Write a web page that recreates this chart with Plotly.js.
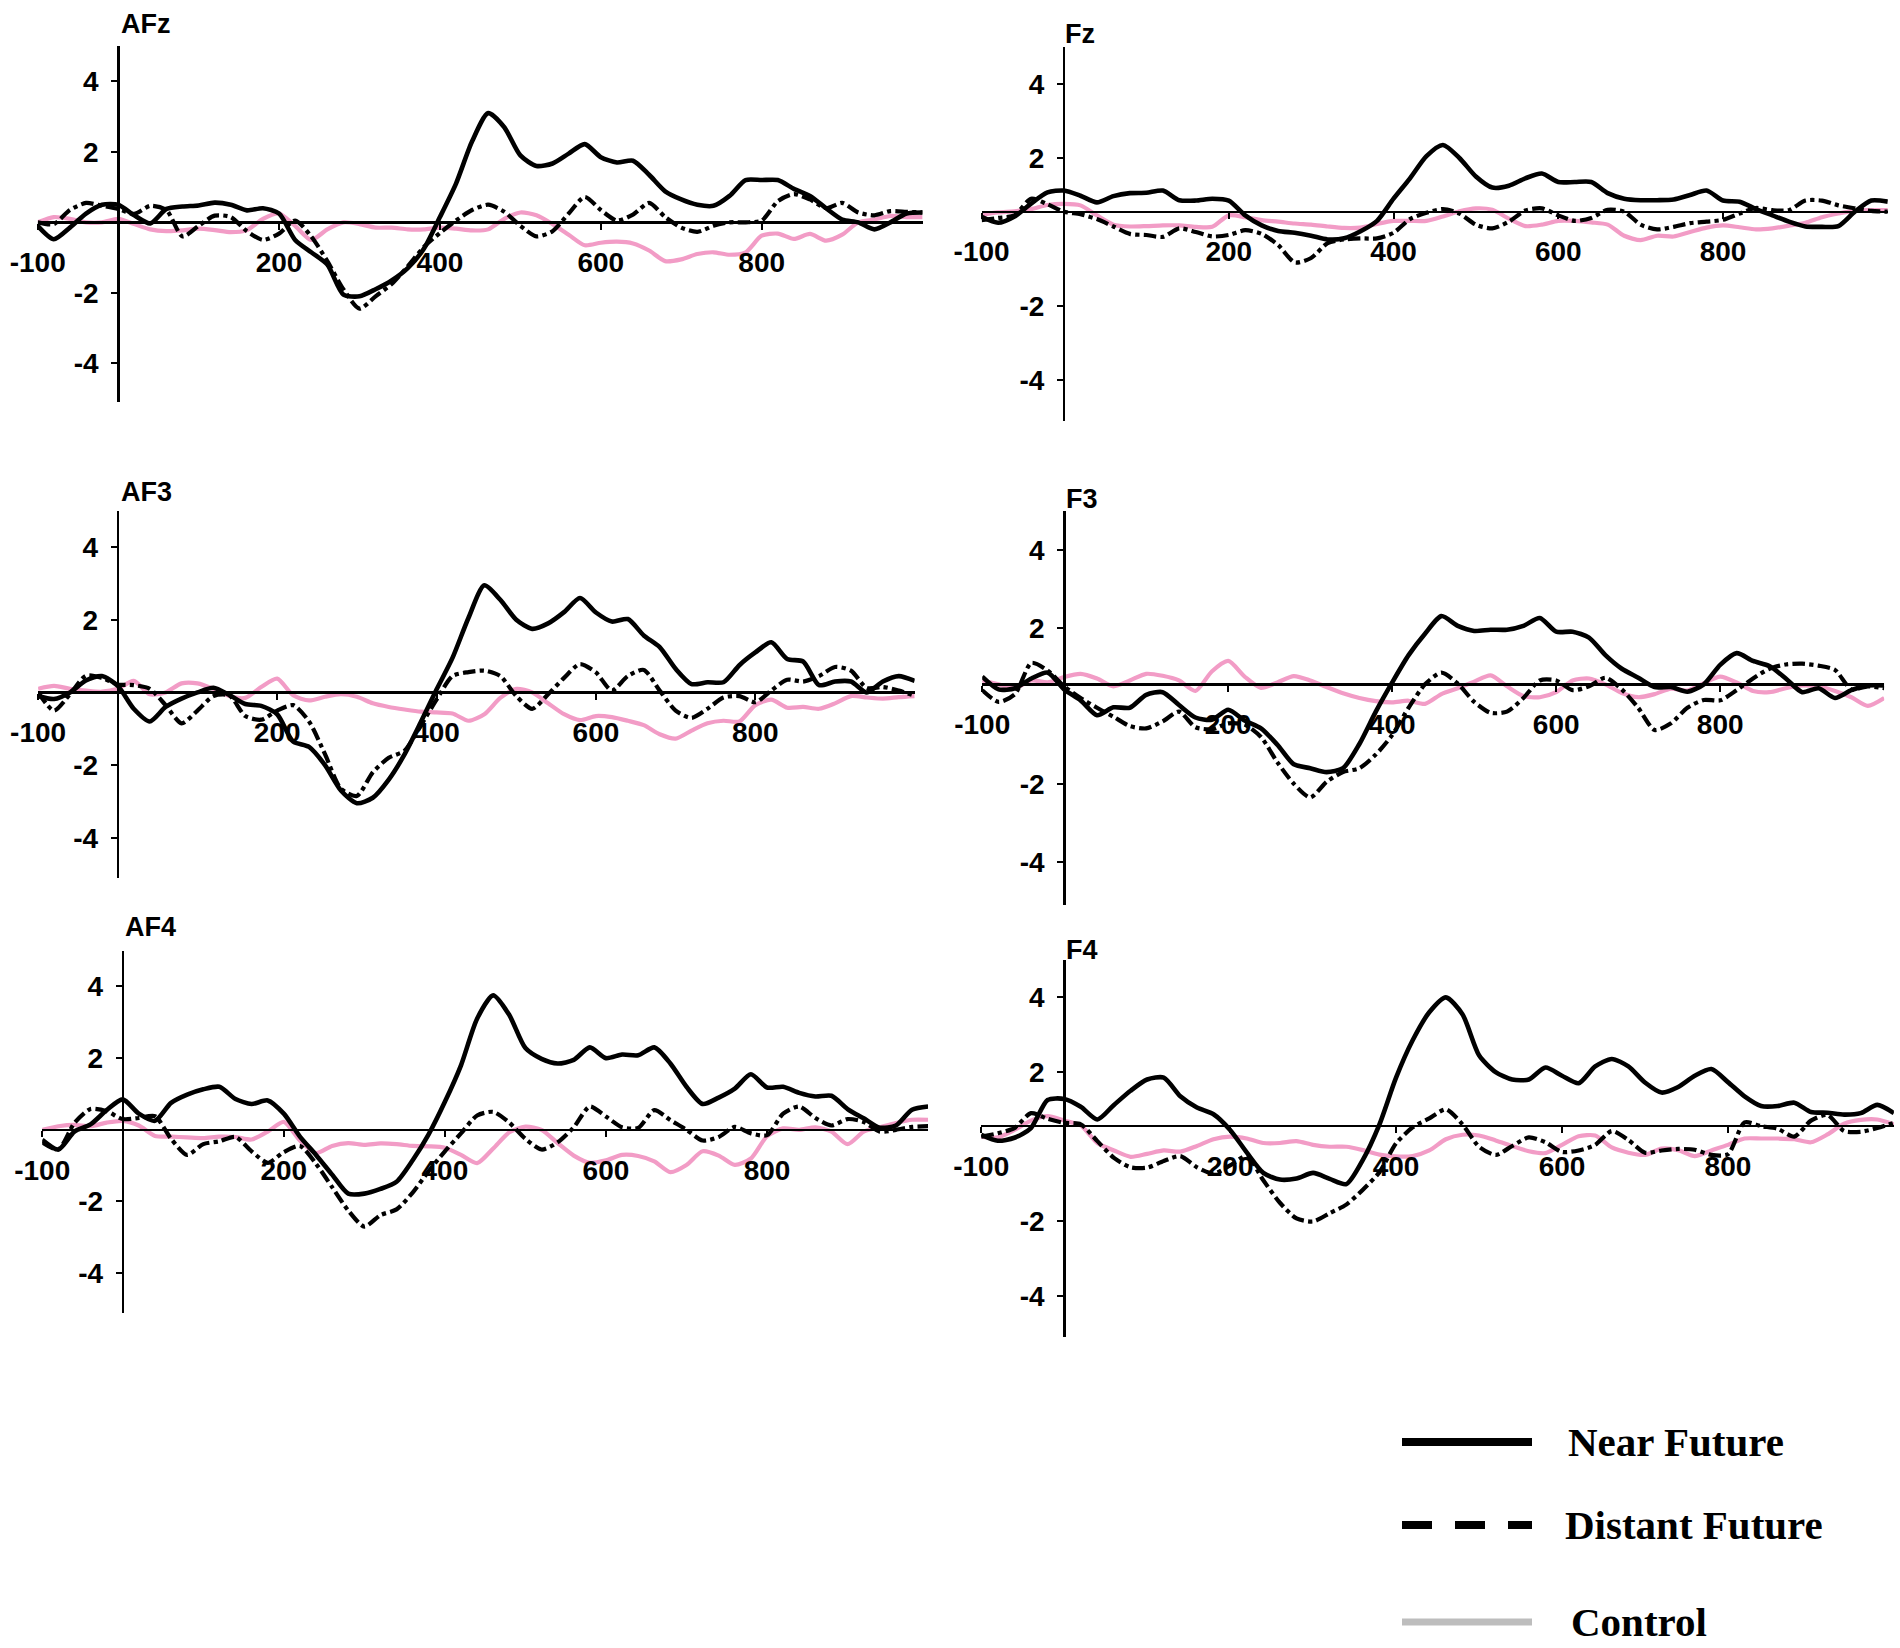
<!DOCTYPE html>
<html>
<head>
<meta charset="utf-8">
<script src="https://cdn.plot.ly/plotly-3.0.1.min.js"></script>
<style>
  html, body { margin: 0; padding: 0; background: #fff; }
  #erp { width: 1900px; height: 1648px; }
</style>
</head>
<body>
<div id="erp"></div>
<script>
// time points (ms), 20 ms apart
const times = [-100, -80, -60, -40, -20, 0, 20, 40, 60, 80,
  100, 120, 140, 160, 180, 200, 220, 240, 260, 280,
  300, 320, 340, 360, 380, 400, 420, 440, 460, 480,
  500, 520, 540, 560, 580, 600, 620, 640, 660, 680,
  700, 720, 740, 760, 780, 800, 820, 840, 860, 880,
  900, 920, 940, 960, 980, 1000];

// amplitudes (µV)
const afzNear = [-0.1, -0.48, -0.15, 0.25, 0.5, 0.5, 0.2, -0.03, 0.38, 0.45, 0.48, 0.56, 0.5, 0.34, 0.4, 0.25, -0.5, -0.85, -1.2, -2.05, -2.1, -1.9, -1.65, -1.3, -0.75, 0.15, 1.1, 2.3, 3.1, 2.7, 1.9, 1.6, 1.67, 1.95, 2.22, 1.85, 1.7, 1.75, 1.35, 0.88, 0.65, 0.5, 0.47, 0.75, 1.2, 1.2, 1.2, 0.95, 0.75, 0.4, 0.08, 0, -0.2, 0.0, 0.25, 0.28];
const afzDist = [0, -0.05, 0.35, 0.55, 0.47, 0.38, 0.24, 0.47, 0.35, -0.4, -0.1, 0.19, 0.15, -0.25, -0.5, -0.32, 0.05, -0.4, -1.1, -1.9, -2.45, -2.1, -1.75, -1.25, -0.7, -0.3, 0.05, 0.35, 0.5, 0.3, -0.1, -0.4, -0.25, 0.25, 0.72, 0.35, 0.05, 0.22, 0.55, 0.15, -0.15, -0.27, -0.1, 0, 0, 0.05, 0.6, 0.8, 0.65, 0.4, 0.55, 0.28, 0.2, 0.32, 0.3, 0.28];
const afzCtrl = [0, 0.15, 0.1, 0, 0, 0.1, -0.05, -0.2, -0.25, -0.23, -0.18, -0.22, -0.28, -0.22, 0.1, 0.25, -0.1, -0.5, -0.2, 0, -0.05, -0.15, -0.15, -0.2, -0.2, -0.15, -0.18, -0.23, -0.2, 0.1, 0.28, 0.2, -0.05, -0.35, -0.65, -0.58, -0.55, -0.6, -0.8, -1.1, -1.05, -0.9, -0.85, -0.92, -0.85, -0.38, -0.32, -0.47, -0.33, -0.52, -0.35, 0, 0.08, 0.18, 0.15, 0.15];

const fzNear = [0.41, 0.25, 0.42, 0.77, 1.07, 1.12, 0.98, 0.8, 0.97, 1.05, 1.06, 1.12, 0.86, 0.85, 0.9, 0.85, 0.45, 0.18, 0.03, -0.02, -0.1, -0.2, -0.17, 0.02, 0.3, 0.9, 1.45, 2.05, 2.35, 2.0, 1.5, 1.2, 1.25, 1.45, 1.58, 1.35, 1.35, 1.35, 1.05, 0.9, 0.86, 0.86, 0.88, 1.0, 1.12, 0.85, 0.82, 0.62, 0.45, 0.28, 0.15, 0.14, 0.16, 0.55, 0.85, 0.82];
const fzDist = [0.32, 0.38, 0.45, 0.9, 0.75, 0.55, 0.48, 0.35, 0.15, -0.05, -0.08, -0.13, 0.1, 0, -0.12, -0.08, 0.05, -0.05, -0.35, -0.82, -0.7, -0.3, -0.2, -0.17, -0.17, -0.02, 0.35, 0.52, 0.62, 0.5, 0.2, 0.1, 0.28, 0.58, 0.64, 0.45, 0.3, 0.38, 0.6, 0.55, 0.2, 0.07, 0.14, 0.24, 0.28, 0.33, 0.5, 0.65, 0.59, 0.59, 0.85, 0.85, 0.72, 0.64, 0.57, 0.55];
const fzCtrl = [0.46, 0.53, 0.56, 0.62, 0.73, 0.76, 0.72, 0.45, 0.2, 0.15, 0.16, 0.18, 0.18, 0.14, 0.14, 0.45, 0.4, 0.32, 0.28, 0.23, 0.2, 0.15, 0.11, 0.12, 0.22, 0.3, 0.3, 0.3, 0.42, 0.56, 0.64, 0.6, 0.36, 0.16, 0.2, 0.3, 0.3, 0.26, 0.2, -0.1, -0.22, -0.1, -0.12, 0, 0.12, 0.18, 0.13, 0.07, 0.1, 0.17, 0.25, 0.4, 0.5, 0.58, 0.59, 0.59];

const af3Near = [-0.1, -0.18, 0, 0.33, 0.45, 0.18, -0.45, -0.8, -0.4, -0.17, 0, 0.13, -0.07, -0.32, -0.37, -0.6, -1.35, -1.5, -2.0, -2.7, -3.05, -2.9, -2.4, -1.7, -0.83, 0.08, 0.95, 2.05, 2.95, 2.55, 2.0, 1.75, 1.9, 2.21, 2.6, 2.2, 1.95, 2.02, 1.57, 1.25, 0.65, 0.23, 0.28, 0.28, 0.75, 1.1, 1.38, 0.92, 0.85, 0.2, 0.3, 0.3, 0.0, 0.3, 0.45, 0.32];
const af3Dist = [0, -0.5, -0.05, 0.46, 0.4, 0.22, 0.2, 0.1, -0.35, -0.85, -0.5, -0.1, -0.08, -0.65, -0.75, -0.5, -0.35, -0.8, -1.7, -2.65, -2.85, -2.2, -1.8, -1.6, -0.92, -0.2, 0.45, 0.56, 0.6, 0.45, -0.1, -0.45, -0.05, 0.4, 0.78, 0.55, 0.05, 0.45, 0.62, 0.05, -0.5, -0.7, -0.45, -0.14, -0.1, -0.27, 0.05, 0.35, 0.3, 0.45, 0.7, 0.6, 0.12, 0.15, 0.05, -0.09];
const af3Ctrl = [0.1, 0.18, 0.1, 0.05, 0.02, 0.1, 0.32, -0.05, 0, 0.25, 0.25, 0.1, -0.1, -0.15, 0.15, 0.38, -0.08, -0.22, -0.12, -0.05, -0.12, -0.3, -0.4, -0.47, -0.53, -0.55, -0.58, -0.78, -0.6, -0.15, 0.1, 0, -0.3, -0.6, -0.76, -0.65, -0.68, -0.78, -0.9, -1.15, -1.27, -1.05, -0.85, -0.78, -0.8, -0.35, -0.2, -0.42, -0.4, -0.45, -0.3, -0.1, -0.14, -0.17, -0.13, -0.1];

const f3Near = [0.75, 0.42, 0.45, 0.7, 0.85, 0.42, 0.14, -0.24, -0.04, -0.05, 0.28, 0.35, 0.02, -0.3, -0.36, -0.1, -0.38, -0.58, -1.0, -1.5, -1.6, -1.7, -1.6, -0.98, -0.15, 0.6, 1.3, 1.85, 2.3, 2.05, 1.92, 1.95, 1.95, 2.05, 2.25, 1.9, 1.9, 1.75, 1.3, 0.95, 0.72, 0.48, 0.48, 0.36, 0.55, 1.05, 1.35, 1.15, 1.02, 0.7, 0.35, 0.45, 0.2, 0.4, 0.52, 0.52];
const f3Dist = [0.4, 0.1, 0.3, 1.1, 0.9, 0.5, 0.2, -0.05, -0.28, -0.52, -0.58, -0.4, -0.15, -0.55, -0.6, -0.45, -0.48, -0.8, -1.45, -2.0, -2.35, -1.95, -1.7, -1.6, -1.25, -0.75, -0.05, 0.55, 0.85, 0.57, 0.1, -0.18, -0.15, 0.2, 0.65, 0.65, 0.4, 0.5, 0.72, 0.42, -0.05, -0.62, -0.45, -0.05, 0.15, 0.14, 0.4, 0.7, 0.95, 1.06, 1.08, 1.03, 0.92, 0.42, 0.5, 0.45];
const f3Ctrl = [0.65, 0.55, 0.45, 0.65, 0.6, 0.74, 0.82, 0.7, 0.5, 0.65, 0.82, 0.77, 0.65, 0.38, 0.88, 1.15, 0.75, 0.46, 0.6, 0.76, 0.65, 0.48, 0.32, 0.2, 0.12, 0.09, 0.13, 0.05, 0.3, 0.45, 0.62, 0.78, 0.5, 0.25, 0.22, 0.35, 0.65, 0.7, 0.55, 0.33, 0.22, 0.3, 0.44, 0.39, 0.58, 0.75, 0.6, 0.38, 0.35, 0.45, 0.52, 0.5, 0.38, 0.22, 0.0, 0.2];

const af4Near = [-0.28, -0.55, -0.05, 0.15, 0.55, 0.85, 0.45, 0.25, 0.75, 0.98, 1.13, 1.2, 0.86, 0.72, 0.82, 0.45, -0.19, -0.7, -1.25, -1.78, -1.78, -1.65, -1.45, -0.85, -0.12, 0.78, 1.8, 3.1, 3.75, 3.2, 2.28, 1.98, 1.85, 1.95, 2.3, 2.0, 2.1, 2.08, 2.3, 1.85, 1.2, 0.72, 0.9, 1.15, 1.55, 1.18, 1.2, 1.03, 0.93, 0.95, 0.58, 0.32, 0.06, 0.12, 0.56, 0.65];
const af4Dist = [-0.35, -0.55, 0.19, 0.58, 0.52, 0.3, 0.33, 0.38, -0.25, -0.7, -0.4, -0.32, -0.2, -0.6, -0.92, -0.62, -0.45, -0.95, -1.6, -2.25, -2.7, -2.38, -2.22, -1.75, -1.15, -0.6, -0.1, 0.4, 0.5, 0.2, -0.25, -0.55, -0.35, 0.07, 0.65, 0.37, 0.07, 0.05, 0.55, 0.27, 0, -0.3, -0.2, 0.08, -0.1, -0.15, 0.45, 0.65, 0.33, 0.12, 0.3, 0.22, -0.05, 0, 0.08, 0.1];
const af4Ctrl = [0, 0.1, 0.14, 0.1, 0.2, 0.25, 0.12, -0.17, -0.19, -0.21, -0.23, -0.19, -0.2, -0.27, -0.05, 0.22, -0.3, -0.65, -0.45, -0.37, -0.42, -0.38, -0.4, -0.45, -0.46, -0.5, -0.7, -0.93, -0.52, -0.07, 0.09, 0, -0.37, -0.72, -0.92, -0.85, -0.7, -0.73, -0.88, -1.18, -0.98, -0.6, -0.72, -0.98, -0.8, -0.18, 0.04, 0, 0.07, -0.05, -0.4, -0.05, 0.07, 0.19, 0.28, 0.28];

const f4Near = [0.32, 0.16, 0.24, 0.5, 1.25, 1.28, 1.07, 0.73, 1.12, 1.5, 1.8, 1.85, 1.35, 1.05, 0.87, 0.45, -0.15, -0.7, -0.88, -0.85, -0.7, -0.86, -1.0, -0.35, 0.6, 1.85, 2.85, 3.6, 4.0, 3.55, 2.45, 2.0, 1.8, 1.8, 2.12, 1.9, 1.7, 2.15, 2.35, 2.15, 1.72, 1.45, 1.6, 1.9, 2.08, 1.73, 1.35, 1.09, 1.09, 1.18, 0.93, 0.91, 0.86, 0.9, 1.12, 0.9];
const f4Dist = [0.27, 0.36, 0.5, 0.9, 0.75, 0.64, 0.6, 0.15, -0.3, -0.55, -0.56, -0.38, -0.25, -0.55, -0.72, -0.5, -0.25, -0.9, -1.5, -1.92, -2.0, -1.78, -1.55, -1.15, -0.68, 0.09, 0.52, 0.76, 1.0, 0.6, 0, -0.22, 0.02, 0.25, 0.12, -0.14, -0.1, 0.05, 0.42, 0.18, -0.16, -0.1, -0.06, -0.08, -0.22, -0.2, 0.65, 0.55, 0.48, 0.27, 0.7, 0.85, 0.42, 0.4, 0.5, 0.64];
const f4Ctrl = [0.27, 0.25, 0.45, 0.7, 0.82, 0.7, 0.57, 0.1, -0.1, -0.27, -0.19, -0.1, -0.13, 0.02, 0.2, 0.27, 0.22, 0.1, 0.1, 0.15, 0.05, 0, 0, -0.09, -0.21, -0.26, -0.25, -0.1, 0.2, 0.32, 0.3, 0.17, 0.02, -0.12, -0.17, 0.05, 0.28, 0.3, -0.02, -0.16, -0.22, -0.05, -0.09, -0.25, -0.1, 0.05, 0.22, 0.22, 0.22, 0.2, 0.12, 0.33, 0.62, 0.72, 0.73, 0.6];

const xTicks = [-100, 200, 400, 600, 800];
const xTickText = ['-100', '200', '400', '600', '800'];
const yTicks = [-4, -2, 2, 4];
const yTickText = ['-4', '-2', '2', '4'];
const legendNames = ['Near Future', 'Distant Future', 'Control'];

const W = 1900, H = 1648;
const X_RANGE = [-100, 1000];
const Y_RANGE = [-5.1, 5.0];

// page boxes in px: [left(-100 ms), right(1000 ms), top(+5), bottom(-5.1)];
// base = where the horizontal axis line crosses the y scale
const panels = [
  { name: 'AFz', near: afzNear, dist: afzDist, ctrl: afzCtrl, box: [37.7, 922.6, 46.2, 402.0], base: 0, title: [119, 24] },
  { name: 'Fz', near: fzNear, dist: fzDist, ctrl: fzCtrl, box: [981.6, 1887.8, 46.8, 421.0], base: 0.55, title: [1063, 34] },
  { name: 'AF3', near: af3Near, dist: af3Dist, ctrl: af3Ctrl, box: [38.1, 914.7, 510.8, 877.7], base: 0, title: [119, 492] },
  { name: 'F3', near: f3Near, dist: f3Dist, ctrl: f3Ctrl, box: [982.2, 1884.2, 510.8, 904.7], base: 0.55, title: [1064, 499] },
  { name: 'AF4', near: af4Near, dist: af4Dist, ctrl: af4Ctrl, box: [42.2, 928.1, 950.6, 1312.6], base: 0, title: [123, 927] },
  { name: 'F4', near: f4Near, dist: f4Dist, ctrl: f4Ctrl, box: [981.2, 1893.9, 960.0, 1337.2], base: 0.55, title: [1064, 950] }
];

const tickFont = { family: 'Liberation Sans, Arial, sans-serif', size: 28, color: '#000', weight: 'bold' };
const titleFont = { family: 'Liberation Sans, Arial, sans-serif', size: 27, color: '#000', weight: 'bold' };
const legendFont = { family: 'Liberation Serif, Times New Roman, serif', size: 41, color: '#000', weight: 'bold' };

const traces = [];
const layout = {
  width: W,
  height: H,
  margin: { l: 0, r: 0, t: 0, b: 0 },
  paper_bgcolor: '#fff',
  plot_bgcolor: 'rgba(0,0,0,0)',
  showlegend: false,
  annotations: [],
  shapes: []
};

panels.forEach((p, i) => {
  const k = i ? String(i + 1) : '';
  const [x0, x1, yt, yb] = p.box;
  const dx = [x0 / W, x1 / W];
  const dy = [1 - yb / H, 1 - yt / H];
  const fx = (0 - X_RANGE[0]) / (X_RANGE[1] - X_RANGE[0]);
  const fy = (p.base - Y_RANGE[0]) / (Y_RANGE[1] - Y_RANGE[0]);

  layout['xaxis' + k] = {
    domain: dx, range: X_RANGE, anchor: 'free',
    position: dy[0] + fy * (dy[1] - dy[0]),
    showline: true, linecolor: '#000', linewidth: 2.2,
    showgrid: false, zeroline: false,
    ticks: 'outside', ticklen: 6, tickwidth: 2, tickcolor: '#000',
    tickvals: xTicks, ticktext: xTickText, tickfont: tickFont,
    ticklabelstandoff: 9, fixedrange: true
  };
  layout['yaxis' + k] = {
    domain: dy, range: Y_RANGE, anchor: 'free',
    position: dx[0] + fx * (dx[1] - dx[0]),
    showline: true, linecolor: '#000', linewidth: 2.5,
    showgrid: false, zeroline: false,
    ticks: 'outside', ticklen: 6, tickwidth: 2, tickcolor: '#000',
    tickvals: yTicks, ticktext: yTickText, tickfont: tickFont,
    ticklabelstandoff: 7, fixedrange: true
  };

  const ax = { xaxis: 'x' + k, yaxis: 'y' + k };
  traces.push(
    Object.assign({ x: times, y: p.ctrl, type: 'scatter', mode: 'lines', name: legendNames[2],
      line: { color: '#f29cc6', width: 4.2, shape: 'spline', smoothing: 0.7 } }, ax),
    Object.assign({ x: times, y: p.dist, type: 'scatter', mode: 'lines', name: legendNames[1],
      line: { color: '#000', width: 4.2, dash: 'dashdot', shape: 'spline', smoothing: 0.7 } }, ax),
    Object.assign({ x: times, y: p.near, type: 'scatter', mode: 'lines', name: legendNames[0],
      line: { color: '#000', width: 4.6, shape: 'spline', smoothing: 0.7 } }, ax)
  );

  layout.annotations.push({
    text: p.name, xref: 'paper', yref: 'paper',
    x: p.title[0] / W, y: 1 - p.title[1] / H,
    xanchor: 'left', yanchor: 'middle', showarrow: false, font: titleFont
  });
});

// legend drawn by hand: long sample lines next to serif labels
const legendRows = [
  { y: 1442, textX: 1566, line: { color: '#000', width: 8 } },
  { y: 1525, textX: 1563, line: { color: '#000', width: 8, dash: '30px,23px' } },
  { y: 1622, textX: 1569, line: { color: '#bdbdbd', width: 7 } }
];
legendRows.forEach((r, i) => {
  layout.shapes.push({
    type: 'line', xref: 'paper', yref: 'paper',
    x0: 1402 / W, x1: 1532 / W, y0: 1 - r.y / H, y1: 1 - r.y / H,
    line: r.line
  });
  layout.annotations.push({
    text: legendNames[i], xref: 'paper', yref: 'paper',
    x: r.textX / W, y: 1 - r.y / H, xanchor: 'left', yanchor: 'middle',
    showarrow: false, font: legendFont
  });
});

Plotly.newPlot('erp', traces, layout, { displayModeBar: false, staticPlot: true });
</script>
</body>
</html>
